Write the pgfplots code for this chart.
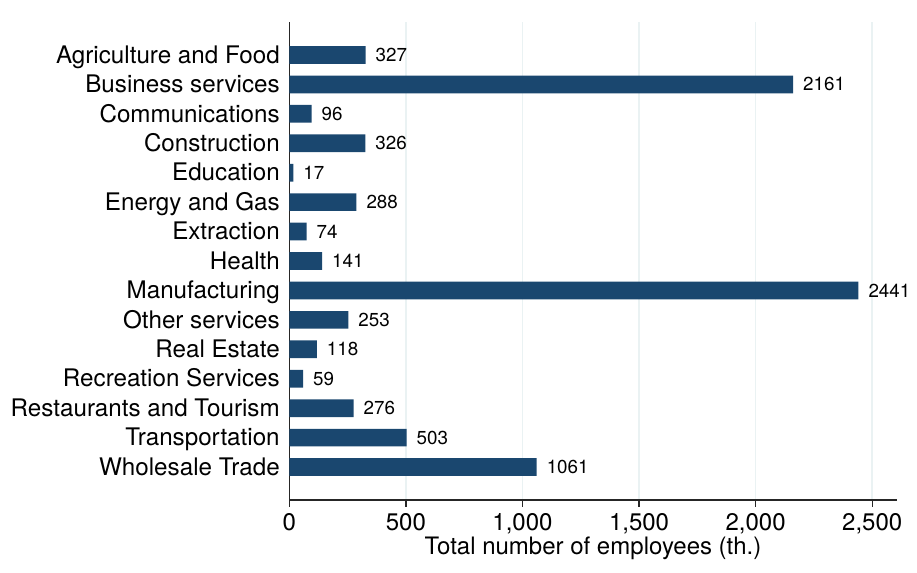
\documentclass[border=0pt]{standalone}
\usepackage{fontspec}
\setmainfont{TeX Gyre Heros}
\usepackage{pgfplots}
\pgfplotsset{compat=1.18}
\definecolor{barnavy}{RGB}{26,71,111}
\definecolor{gridc}{RGB}{234,242,243}

\begin{document}
\begin{tikzpicture}
\begin{axis}[
    name=ax,
    xbar,
    scale only axis,
    width=303.7pt,
    height=239pt,
    xmin=0, xmax=2605,
    ymin=-0.12, ymax=16.12,
    y dir=reverse,
    axis x line*=bottom,
    axis y line*=left,
    axis line style={line width=0.65pt, black!85},
    xtick={0,500,1000,1500,2000,2500},
    ytick={1,...,15},
    yticklabels={Agriculture and Food, Business services, Communications,
        Construction, Education, Energy and Gas, Extraction, Health,
        Manufacturing, Other services, Real Estate, Recreation Services,
        Restaurants and Tourism, Transportation, Wholesale Trade},
    tick align=outside,
    major tick length=3.25pt,
    xtick style={line width=0.65pt, black!85},
    ytick style={draw=none},
    yticklabel style={font=\fontsize{12.1}{14}\selectfont, xshift=2pt,
        text height=8.8pt, text depth=0.6pt},
    xticklabel style={font=\fontsize{12}{14}\selectfont},
    /pgf/number format/assume math mode=true,
    /pgf/number format/1000 sep={,},
    xmajorgrids,
    grid style={gridc, line width=0.75pt},
    xlabel={Total number of employees (th.)},
    xlabel style={font=\fontsize{12}{14}\selectfont, yshift=5.5pt},
    bar width=8.85pt,
    point meta=x,
    nodes near coords={\pgfmathprintnumber[fixed,precision=0,1000 sep={}]{\pgfplotspointmeta}},
    nodes near coords style={font=\fontsize{9.4}{11}\selectfont, black, anchor=west, xshift=1.5pt},
]
\addplot[fill=barnavy, draw=none] coordinates {
    (327,1)
    (2161,2)
    (96,3)
    (326,4)
    (17,5)
    (288,6)
    (74,7)
    (141,8)
    (2441,9)
    (253,10)
    (118,11)
    (59,12)
    (276,13)
    (503,14)
    (1061,15)
};
\end{axis}
\path[use as bounding box] ([shift={(-144.65pt,-36.5pt)}]ax.south west)
    rectangle ([shift={(10.15pt,11pt)}]ax.north east);
\end{tikzpicture}
\end{document}
